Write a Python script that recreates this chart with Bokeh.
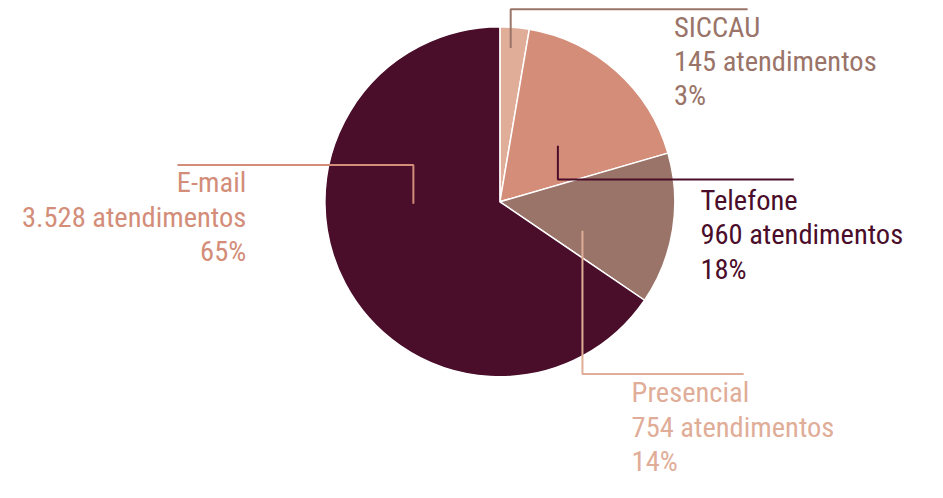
import math
from bokeh.plotting import figure
from bokeh.models import Range1d, ColumnDataSource
from bokeh.core.properties import value
from bokeh.embed import file_html
from bokeh.resources import INLINE

# ---- data ----
names = ["SICCAU", "Telefone", "Presencial", "E-mail"]
counts = [145, 960, 754, 3528]

# ---- styles ----
slice_colors = ["#DFAD98", "#D38D79", "#9A7468", "#4A0D2A"]
label_colors = ["#9A7468", "#4A0D2A", "#DFAD98", "#D38D79"]
FONT = value("Roboto Condensed")

# ---- layout (reference pixels) ----
cx, cy, R = 508, 208, 178
text_x = [685, 712, 642, 250]
text_align = ["left", "left", "left", "right"]
baseline_fix = 10.5
text_y0 = [38, 217, 416, 199]
line_step = 35.5
leaders = [
    ([519, 519, 760], [49, 9, 9]),
    ([567, 567, 807], [150, 185, 185]),
    ([592, 592, 756], [238, 386, 386]),
    ([420, 420, 180], [210, 170, 170]),
]

total = sum(counts)
fracs = [c / total for c in counts]
cum = [0]
for f in fracs:
    cum.append(cum[-1] + f)
starts = [math.pi / 2 - 2 * math.pi * cum[i + 1] for i in range(len(counts))]
ends = [math.pi / 2 - 2 * math.pi * cum[i] for i in range(len(counts))]

p = figure(width=927, height=482, output_backend="svg", toolbar_location=None,
           x_range=Range1d(0, 943), y_range=Range1d(498, 0), min_border=0)
p.axis.visible = False
p.grid.visible = False
p.outline_line_color = None
p.background_fill_color = "white"
p.border_fill_color = "white"

src = ColumnDataSource(dict(x=[cx] * 4, y=[cy] * 4, s=starts, e=ends, c=slice_colors))
p.wedge(x="x", y="y", radius=R, start_angle="s", end_angle="e", fill_color="c",
        line_color="white", line_width=1.5, source=src)

for i, (lx, ly) in enumerate(leaders):
    p.line(lx, ly, line_color=label_colors[i], line_width=2)

def fmt(n):
    return f"{n:,}".replace(",", ".")

for i in range(len(names)):
    lines = [names[i], f"{fmt(counts[i])} atendimentos", f"{round(100 * counts[i] / total)}%"]
    ys = [text_y0[i] - baseline_fix + k * line_step for k in range(3)]
    p.text(x=[text_x[i]] * 3, y=ys, text=lines, text_font=FONT, text_font_size="28.5px",
           text_color=label_colors[i], text_align=text_align[i], text_baseline="alphabetic")

open("out.html", "w").write(file_html(p, INLINE))
